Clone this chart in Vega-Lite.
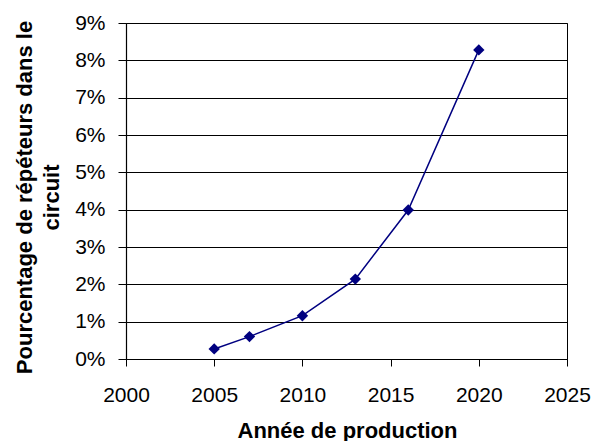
{
  "$schema": "https://vega.github.io/schema/vega-lite/v6.json",
  "autosize": {"type": "none"},
  "padding": {"left": 126, "top": 23, "right": 25, "bottom": 82},
  "width": 441,
  "height": 336,
  "background": "white",
  "config": {
    "font": "Liberation Sans",
    "view": {"stroke": "#000000", "strokeWidth": 1}
  },
  "data": {
    "values": [
      {"annee": 2005, "pourcentage": 0.0027},
      {"annee": 2007, "pourcentage": 0.0060},
      {"annee": 2010, "pourcentage": 0.0116},
      {"annee": 2013, "pourcentage": 0.0214},
      {"annee": 2016, "pourcentage": 0.0399},
      {"annee": 2020, "pourcentage": 0.0828}
    ]
  },
  "encoding": {
    "x": {
      "field": "annee",
      "type": "quantitative",
      "scale": {"domain": [2000, 2025], "nice": false, "zero": false},
      "axis": {
        "values": [2000, 2005, 2010, 2015, 2020, 2025],
        "format": "d",
        "grid": false,
        "domainColor": "#000000",
        "tickColor": "#000000",
        "tickSize": 7,
        "labelFont": "Liberation Sans",
        "labelFontSize": 21,
        "labelColor": "#000000",
        "labelBaseline": "alphabetic",
        "labelPadding": 35,
        "labelFlush": false,
        "title": "Année de production",
        "titleFont": "Liberation Sans",
        "titleFontSize": 22,
        "titleFontWeight": "bold",
        "titleColor": "#000000",
        "titleBaseline": "alphabetic",
        "titleY": 78,
        "titleX": 221
      }
    },
    "y": {
      "field": "pourcentage",
      "type": "quantitative",
      "scale": {"domain": [0, 0.09], "nice": false},
      "axis": {
        "values": [0, 0.01, 0.02, 0.03, 0.04, 0.05, 0.06, 0.07, 0.08, 0.09],
        "format": ".0%",
        "grid": true,
        "gridColor": "#000000",
        "gridWidth": 1.2,
        "gridOpacity": 1,
        "domainColor": "#000000",
        "domainWidth": 1.2,
        "tickColor": "#000000",
        "tickSize": 8,
        "labelFont": "Liberation Sans",
        "labelFontSize": 21,
        "labelColor": "#000000",
        "labelPadding": 13,
        "labelBaseline": "middle",
        "labelFlush": false,
        "title": ["Pourcentage de répéteurs dans le", "circuit"],
        "titleFont": "Liberation Sans",
        "titleFontSize": 22,
        "titleFontWeight": "bold",
        "titleColor": "#000000",
        "titleAngle": -90,
        "titleAlign": "center",
        "titleBaseline": "alphabetic",
        "titleLineHeight": 27,
        "titleX": -95,
        "titleY": 174
      }
    }
  },
  "layer": [
    {"mark": {"type": "line", "color": "#000080", "strokeWidth": 1.5}},
    {"mark": {"type": "point", "shape": "diamond", "filled": true, "color": "#000080", "opacity": 1, "size": 130}}
  ]
}
